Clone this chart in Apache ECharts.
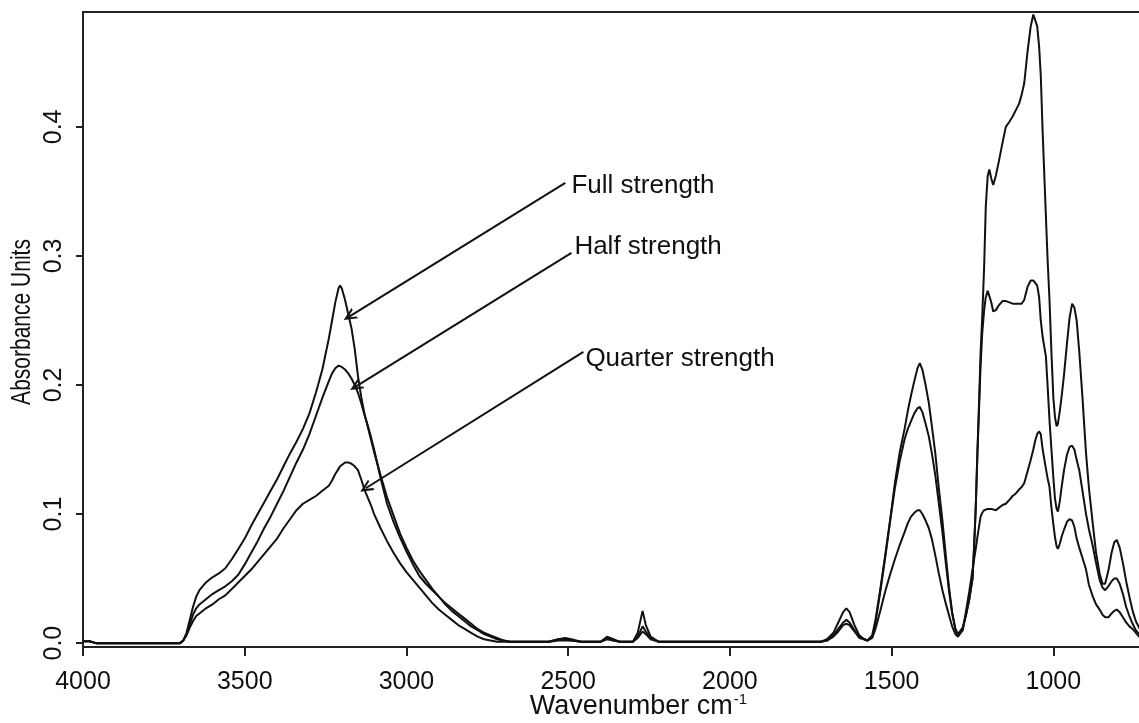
<!DOCTYPE html>
<html><head><meta charset="utf-8">
<script src="https://cdn.jsdelivr.net/npm/echarts@6/dist/echarts.min.js"></script>
<style>html,body{margin:0;padding:0;background:#fff}#c{width:1139px;height:723px}</style>
</head><body><div id="c"></div>
<script>
// Wavenumber (cm^-1) sample positions
const wavenumbers = [
  4000, 3980, 3960, 3720, 3700, 3690, 3680, 3670, 3660, 3650,
  3640, 3620, 3600, 3580, 3560, 3540, 3520, 3500, 3480, 3460,
  3440, 3420, 3400, 3380, 3360, 3340, 3320, 3300, 3280, 3260,
  3240, 3230, 3220, 3210, 3205, 3200, 3190, 3180, 3170, 3160,
  3150, 3140, 3130, 3120, 3110, 3100, 3080, 3060, 3040, 3020,
  3000, 2980, 2960, 2940, 2920, 2900, 2880, 2860, 2840, 2820,
  2800, 2780, 2760, 2740, 2720, 2700, 2680, 2660, 2560, 2530,
  2510, 2490, 2460, 2400, 2380, 2360, 2340, 2300, 2285, 2270,
  2260, 2245, 2220, 2200, 1750, 1720, 1700, 1680, 1665, 1650,
  1640, 1630, 1615, 1600, 1585, 1575, 1560, 1550, 1535, 1520,
  1505, 1490, 1475, 1460, 1450, 1440, 1430, 1420, 1413, 1405,
  1395, 1385, 1375, 1365, 1355, 1343, 1333, 1323, 1313, 1303,
  1295, 1290, 1280, 1270, 1260, 1250, 1245, 1240, 1235, 1230,
  1225, 1220, 1214, 1209, 1203, 1198, 1192, 1186, 1178, 1168,
  1157, 1147, 1136, 1126, 1116, 1106, 1098, 1090, 1080, 1070,
  1062, 1056, 1050, 1044, 1039, 1033, 1023, 1018, 1012, 1006,
  1000, 995, 990, 986, 980, 975, 967, 958, 950, 942,
  935, 928, 920, 910, 899, 890, 878, 868, 857, 848,
  840, 830, 820, 812, 804, 795, 785, 775, 765, 755,
  745, 735, 726
];
// Absorbance, full strength
const fullStrength = [
  0.0015, 0.0015, 0, 0, 0, 0.002, 0.008, 0.018, 0.028, 0.036,
  0.041, 0.047, 0.051, 0.054, 0.058, 0.065, 0.073, 0.081, 0.091, 0.100,
  0.109, 0.118, 0.127, 0.137, 0.147, 0.156, 0.166, 0.178, 0.194, 0.212,
  0.236, 0.250, 0.264, 0.275, 0.277, 0.275, 0.266, 0.255, 0.244, 0.228,
  0.207, 0.191, 0.178, 0.168, 0.158, 0.148, 0.130, 0.113, 0.099, 0.085,
  0.074, 0.064, 0.056, 0.049, 0.042, 0.036, 0.030, 0.025, 0.021, 0.017,
  0.013, 0.010, 0.007, 0.005, 0.003, 0.002, 0.001, 0.001, 0.001, 0.003,
  0.004, 0.003, 0.001, 0.001, 0.005, 0.003, 0.001, 0.001, 0.008, 0.025,
  0.014, 0.005, 0.001, 0.001, 0.001, 0.001, 0.003, 0.008, 0.016, 0.024,
  0.027, 0.024, 0.014, 0.006, 0.003, 0.002, 0.006, 0.018, 0.042, 0.068,
  0.095, 0.124, 0.148, 0.166, 0.180, 0.192, 0.203, 0.213, 0.217, 0.212,
  0.200, 0.186, 0.167, 0.147, 0.122, 0.095, 0.069, 0.044, 0.024, 0.011,
  0.006, 0.006, 0.012, 0.022, 0.034, 0.050, 0.075, 0.105, 0.147, 0.185,
  0.225, 0.252, 0.292, 0.338, 0.362, 0.367, 0.360, 0.355, 0.362, 0.374,
  0.388, 0.400, 0.404, 0.408, 0.413, 0.418, 0.425, 0.434, 0.458, 0.478,
  0.487, 0.486, 0.478, 0.462, 0.440, 0.395, 0.330, 0.298, 0.266, 0.225,
  0.190, 0.175, 0.168, 0.170, 0.180, 0.190, 0.208, 0.232, 0.252, 0.263,
  0.260, 0.250, 0.226, 0.190, 0.147, 0.120, 0.092, 0.070, 0.054, 0.046,
  0.046, 0.056, 0.070, 0.078, 0.080, 0.074, 0.062, 0.048, 0.036, 0.025,
  0.017, 0.012, 0.008
];
// Absorbance, half strength
const halfStrength = [
  0.0015, 0.0015, 0, 0, 0, 0.002, 0.007, 0.014, 0.022, 0.027,
  0.030, 0.034, 0.038, 0.041, 0.044, 0.048, 0.053, 0.061, 0.070, 0.079,
  0.089, 0.098, 0.108, 0.118, 0.129, 0.140, 0.150, 0.162, 0.176, 0.190,
  0.203, 0.209, 0.213, 0.215, 0.215, 0.214, 0.212, 0.209, 0.205, 0.200,
  0.194, 0.186, 0.177, 0.169, 0.160, 0.150, 0.128, 0.108, 0.094, 0.082,
  0.071, 0.061, 0.052, 0.046, 0.041, 0.036, 0.031, 0.027, 0.023, 0.019,
  0.015, 0.011, 0.008, 0.006, 0.004, 0.002, 0.001, 0.001, 0.001, 0.003,
  0.003, 0.002, 0.001, 0.001, 0.004, 0.002, 0.001, 0.001, 0.005, 0.013,
  0.009, 0.004, 0.001, 0.001, 0.001, 0.001, 0.002, 0.006, 0.011, 0.016,
  0.018, 0.016, 0.010, 0.005, 0.003, 0.002, 0.005, 0.016, 0.040, 0.066,
  0.094, 0.120, 0.141, 0.158, 0.166, 0.172, 0.178, 0.182, 0.183, 0.179,
  0.170, 0.160, 0.146, 0.130, 0.110, 0.086, 0.063, 0.041, 0.023, 0.011,
  0.007, 0.006, 0.012, 0.022, 0.034, 0.050, 0.075, 0.105, 0.145, 0.180,
  0.215, 0.240, 0.258, 0.268, 0.273, 0.274, 0.264, 0.257, 0.258, 0.262,
  0.265, 0.265, 0.264, 0.263, 0.263, 0.263, 0.263, 0.266, 0.276, 0.281,
  0.281, 0.280, 0.277, 0.268, 0.250, 0.237, 0.222, 0.200, 0.173, 0.150,
  0.128, 0.112, 0.104, 0.102, 0.110, 0.120, 0.134, 0.146, 0.152, 0.153,
  0.150, 0.142, 0.134, 0.118, 0.100, 0.088, 0.075, 0.062, 0.049, 0.043,
  0.041, 0.044, 0.048, 0.050, 0.050, 0.046, 0.038, 0.028, 0.021, 0.015,
  0.010, 0.007, 0.005
];
// Absorbance, quarter strength
const quarterStrength = [
  0.0015, 0.0015, 0, 0, 0, 0.002, 0.006, 0.012, 0.017, 0.021,
  0.023, 0.027, 0.030, 0.034, 0.037, 0.042, 0.047, 0.052, 0.057, 0.063,
  0.069, 0.075, 0.081, 0.089, 0.096, 0.103, 0.108, 0.111, 0.114, 0.118,
  0.122, 0.126, 0.131, 0.135, 0.137, 0.138, 0.140, 0.140, 0.139, 0.137,
  0.134, 0.127, 0.119, 0.113, 0.107, 0.100, 0.089, 0.079, 0.070, 0.062,
  0.055, 0.049, 0.043, 0.037, 0.031, 0.026, 0.022, 0.018, 0.014, 0.011,
  0.008, 0.005, 0.003, 0.002, 0.001, 0.001, 0.001, 0.001, 0.001, 0.002,
  0.002, 0.002, 0.001, 0.001, 0.003, 0.002, 0.001, 0.001, 0.004, 0.009,
  0.007, 0.003, 0.001, 0.001, 0.001, 0.001, 0.002, 0.005, 0.009, 0.014,
  0.015, 0.014, 0.009, 0.004, 0.003, 0.002, 0.004, 0.011, 0.025, 0.040,
  0.053, 0.065, 0.076, 0.086, 0.093, 0.098, 0.101, 0.103, 0.103, 0.100,
  0.095, 0.089, 0.080, 0.068, 0.055, 0.041, 0.031, 0.022, 0.013, 0.007,
  0.005, 0.005, 0.010, 0.025, 0.040, 0.057, 0.065, 0.073, 0.082, 0.090,
  0.098, 0.101, 0.103, 0.103, 0.104, 0.105, 0.104, 0.103, 0.103, 0.105,
  0.107, 0.108, 0.111, 0.114, 0.116, 0.119, 0.121, 0.124, 0.133, 0.142,
  0.150, 0.157, 0.162, 0.164, 0.162, 0.150, 0.135, 0.128, 0.121, 0.105,
  0.092, 0.082, 0.075, 0.073, 0.077, 0.082, 0.088, 0.094, 0.096, 0.095,
  0.090, 0.081, 0.074, 0.066, 0.057, 0.045, 0.036, 0.030, 0.026, 0.022,
  0.020, 0.020, 0.023, 0.025, 0.026, 0.024, 0.020, 0.016, 0.013, 0.011,
  0.008, 0.005, 0.004
];
const xTicks = [4000, 3500, 3000, 2500, 2000, 1500, 1000];
const yTicks = [0, 0.1, 0.2, 0.3, 0.4];
const seriesNames = ['Full strength', 'Half strength', 'Quarter strength'];
// annotation anchors in data space [wavenumber, absorbance]
const labelAnchors = [[2490, 0.3545], [2481, 0.3072], [2447, 0.2205]];
const arrowStarts = [[2509, 0.3566], [2490, 0.3023], [2453, 0.2256]];
const arrowTips = [[3177, 0.253], [3157, 0.1987], [3126, 0.120]];

const FONT = 'Liberation Sans, Arial, Helvetica, sans-serif';
const INK = '#111';
const chart = echarts.init(document.getElementById('c'), null, {renderer: 'canvas'});

function pairs(vals) { return wavenumbers.map((w, i) => [w, vals[i]]); }
const chevron = 'path://M5,0 L10,10 L8.2,10 L5,3.8 L1.8,10 L0,10 Z';

const lineSeries = [fullStrength, halfStrength, quarterStrength].map((vals, k) => ({
  name: seriesNames[k],
  type: 'line',
  data: pairs(vals),
  showSymbol: false,
  symbol: 'none',
  smooth: false,
  silent: true,
  lineStyle: {color: INK, width: 2},
  z: 3
}));

lineSeries[0].markLine = {
  silent: true,
  symbol: ['none', chevron],
  symbolSize: [12, 13],
  label: {show: false},
  lineStyle: {color: INK, width: 2, type: 'solid'},
  data: arrowStarts.map((s, i) => [{coord: s}, {coord: arrowTips[i]}])
};
lineSeries[0].markPoint = {
  silent: true,
  symbol: 'circle',
  symbolSize: 0.1,
  itemStyle: {color: 'rgba(0,0,0,0)'},
  label: {show: true, position: 'right', distance: 0, formatter: '{b}', color: INK, fontSize: 26, fontFamily: FONT},
  data: seriesNames.map((n, i) => ({name: n, coord: labelAnchors[i], value: 0}))
};

chart.setOption({
  animation: false,
  backgroundColor: '#fff',
  grid: {left: 83, top: 12, right: -3, bottom: 76, show: true, borderColor: '#222', borderWidth: 2,
    backgroundColor: 'transparent', containLabel: false, outerBoundsMode: 'none'},
  xAxis: {
    type: 'value', inverse: true, min: 726, max: 4000,
    name: '{n|Wavenumber cm}{s|-1}',
    nameLocation: 'middle', nameGap: 45, nameMoveOverlap: false,
    nameTextStyle: {
      padding: [0, 0, 0, 52],
      rich: {
        n: {fontSize: 27, fontFamily: FONT, color: INK},
        s: {fontSize: 15, fontFamily: FONT, color: INK, verticalAlign: 'top', padding: [0, 0, 14, 1]}
      }
    },
    axisLine: {show: true, onZero: false, lineStyle: {color: '#222', width: 2}},
    axisTick: {show: true, customValues: xTicks, length: 9, inside: false, lineStyle: {color: '#222', width: 2}},
    axisLabel: {customValues: xTicks, margin: 23, fontSize: 25, color: INK, fontFamily: FONT,
      formatter: v => String(Math.round(v))},
    splitLine: {show: false}
  },
  yAxis: {
    type: 'value', min: -0.003, max: 0.489,
    axisLine: {show: true, onZero: false, lineStyle: {color: '#222', width: 2}},
    axisTick: {show: true, customValues: yTicks, length: 7, lineStyle: {color: '#222', width: 2}},
    axisLabel: {customValues: yTicks, rotate: 90, margin: 16, fontSize: 25, color: INK, fontFamily: FONT,
      formatter: v => v.toFixed(1)},
    splitLine: {show: false}
  },
  graphic: [{
    type: 'text', x: 22, y: 322, rotation: Math.PI / 2, scaleX: 0.75,
    style: {text: 'Absorbance Units', fontSize: 28, fontFamily: FONT, fill: INK, align: 'center', verticalAlign: 'middle'}
  }],
  series: lineSeries
});
</script>
</body></html>
